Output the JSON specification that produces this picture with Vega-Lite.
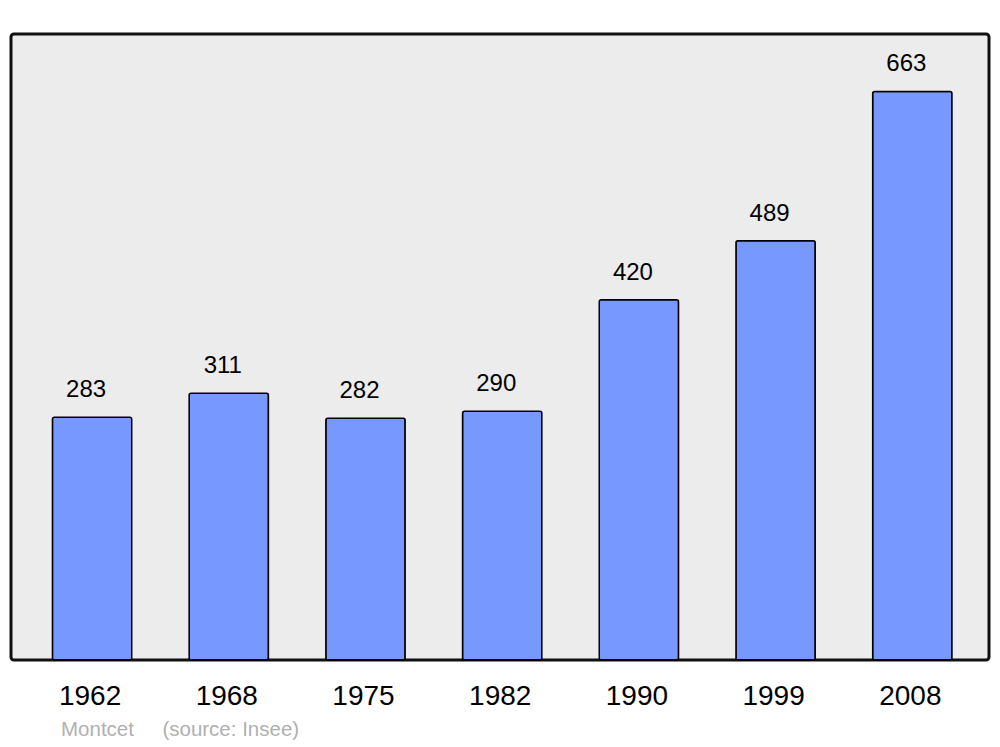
{
  "$schema": "https://vega.github.io/schema/vega-lite/v6.json",
  "width": 978,
  "height": 626,
  "autosize": "none",
  "padding": {"left": 11, "top": 34, "right": 11, "bottom": 87},
  "background": "#ffffff",
  "config": {
    "font": "Liberation Sans",
    "view": {"fill": "#ececec", "stroke": "#111111", "strokeWidth": 3, "cornerRadius": 3}
  },
  "title": {
    "text": "Montcet\u00a0\u00a0\u00a0\u00a0\u00a0(source: Insee)",
    "orient": "bottom",
    "anchor": "start",
    "frame": "group",
    "dx": 50,
    "offset": 10,
    "fontSize": 20.5,
    "fontWeight": "normal",
    "color": "#b0b0b0",
    "font": "Liberation Sans"
  },
  "data": {
    "values": [
      {"year": "1962", "pop": 283},
      {"year": "1968", "pop": 311},
      {"year": "1975", "pop": 282},
      {"year": "1982", "pop": 290},
      {"year": "1990", "pop": 420},
      {"year": "1999", "pop": 489},
      {"year": "2008", "pop": 663}
    ]
  },
  "encoding": {
    "x": {
      "field": "year",
      "type": "ordinal",
      "scale": {"paddingInner": 0.42, "paddingOuter": 0.287, "align": 0.528},
      "axis": {
        "title": null,
        "labelAngle": 0,
        "ticks": false,
        "domain": false,
        "labelFontSize": 28,
        "labelColor": "#000000",
        "labelPadding": 22,
        "labelOffset": -2,
        "labelFont": "Liberation Sans"
      }
    },
    "y": {
      "field": "pop",
      "type": "quantitative",
      "scale": {"domain": [0, 730], "nice": false},
      "axis": null
    }
  },
  "layer": [
    {
      "mark": {"type": "bar", "fill": "#7799ff", "stroke": "#000000", "strokeWidth": 1.5, "cornerRadius": 2}
    },
    {
      "mark": {"type": "text", "baseline": "alphabetic", "dy": -20, "dx": -6, "fontSize": 24, "color": "#000000", "font": "Liberation Sans"},
      "encoding": {"text": {"field": "pop", "type": "quantitative"}}
    }
  ]
}
